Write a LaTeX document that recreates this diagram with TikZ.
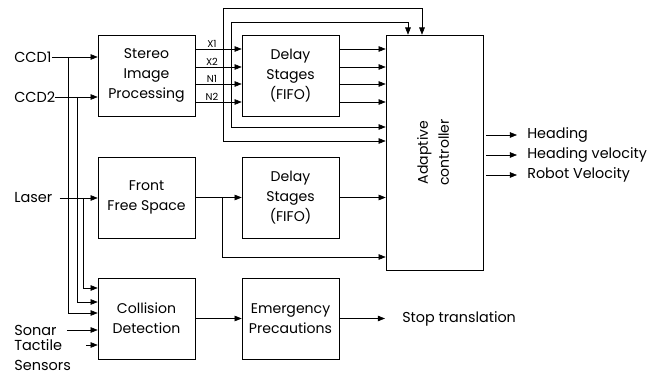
\documentclass[tikz,border=0pt]{standalone}
\usepackage{fontspec}
\setmainfont{Poppins}
\usepackage{graphicx}
\usetikzlibrary{positioning, arrows.meta, calc}

\begin{document}
\begin{tikzpicture}[
    x=0.025cm, y=-0.025cm,
    block/.style={draw, thin, rectangle, minimum width=2.425cm, minimum height=2.025cm,
                  align=center, font=\fontsize{10}{14}\selectfont, inner sep=0pt},
    inlabel/.style={anchor=west, font=\fontsize{10.3}{12}\selectfont, inner sep=0pt},
    outlabel/.style={anchor=west, font=\fontsize{10.2}{12}\selectfont, inner sep=0pt},
    sig/.style={font=\fontsize{7}{8}\selectfont, inner sep=1pt},
    arr/.style={thin, -{Triangle[length=1.8mm, width=1.4mm]}}
]
    \useasboundingbox (0,0) rectangle (670,379);

    % --- Blocks ---
    \node[block] (sip)    at (146.5, 75.5)  {Stereo\\Image\\Processing};
    \node[block] (delay1) at (290.5, 75.5)  {Delay\\Stages\\(FIFO)};
    \node[block] (ffs)    at (146.5, 197.5) {Front\\Free Space};
    \node[block] (delay2) at (290.5, 197.5) {Delay\\Stages\\(FIFO)};
    \node[block] (coll)   at (146.5, 318.5) {Collision\\Detection};
    \node[block] (emerg)  at (290.5, 318.5) {Emergency\\Precautions};
    \node[block, minimum height=5.875cm] (ctrl) at (434.5, 152.5)
        {\rotatebox{90}{\begin{tabular}{@{}c@{}}Adaptive\\[1pt]controller\end{tabular}}};

    % --- Sensor inputs ---
    \node[inlabel] (ccd1)    at (14, 57)  {CCD1};
    \node[inlabel] (ccd2)    at (14, 97)  {CCD2};
    \node[inlabel] (laser)   at (14, 198) {Laser};
    \node[inlabel] (sonar)   at (14, 330) {Sonar};
    \node[inlabel] (tactile) at (14, 345) {Tactile};
    \node[inlabel] (sensors) at (14, 365) {Sensors};

    \draw[arr] (ccd1.east)  -- (ccd1.east -| sip.west);
    \draw[arr] (ccd2.east)  -- (ccd2.east -| sip.west);
    \draw[arr] ($(laser.east)+(7,0)$) -- (laser.east -| ffs.west);
    \draw[arr] ($(sonar.east)+(10,0)$) -- (sonar.east -| coll.west);
    \draw[arr] ($(tactile.east)+(24,0)$) -- (tactile.east -| coll.west);

    % --- Taps down to collision detection ---
    \coordinate (tap1) at (68, 57);
    \coordinate (tap2) at (77, 97);
    \coordinate (tap3) at (83, 198);
    \draw[arr] (tap1) |- (coll.west |- 0,313);
    \draw[arr] (tap2) |- (coll.west |- 0,302);
    \draw[arr] (tap3) |- (coll.west |- 0,288);

    % --- Stereo outputs ---
    \foreach \y/\lab in {49/X1, 67/X2, 84/N1, 102/N2} {
        \draw[arr] (sip.east |- 0,\y) -- (delay1.west |- 0,\y)
            node[sig, pos=0.36, above] {\lab};
        \draw[arr] (delay1.east |- 0,\y) -- (ctrl.west |- 0,\y);
    }

    % --- Feedback bus ---
    \coordinate (busA) at (223, 8);
    \coordinate (busB) at (231, 22);
    \draw[arr] (busA) |- (ctrl.west |- 0,141);
    \draw[arr] (busA) -| ($(ctrl.north)+(-12.5,0)$);
    \draw[arr] (busB) |- (ctrl.west |- 0,127);
    \draw[arr] (busB) -| ($(ctrl.north)+(-26.5,0)$);

    % --- Free space path ---
    \draw[arr] (ffs) -- (delay2);
    \draw[arr] (delay2) -- (delay2 -| ctrl.west);
    \coordinate (tapF) at (222, 197.5);
    \draw[arr] (tapF) |- (ctrl.west |- 0,257);

    % --- Controller outputs ---
    \node[outlabel] (head)  at (527, 135) {Heading};
    \node[outlabel] (headv) at (527, 155) {Heading velocity};
    \node[outlabel] (robv)  at (527, 175) {Robot Velocity};
    \foreach \o in {head, headv, robv}
        \draw[arr] ($(ctrl.east |- \o.west)+(3,0)$) -- ($(\o.west)+(-10,0)$);

    % --- Emergency path ---
    \node[outlabel] (stop) at (402, 318.5) {Stop translation};
    \draw[arr] (coll) -- (emerg);
    \draw[arr] (emerg) -- ($(stop.west)+(-17,0)$);
\end{tikzpicture}
\end{document}
